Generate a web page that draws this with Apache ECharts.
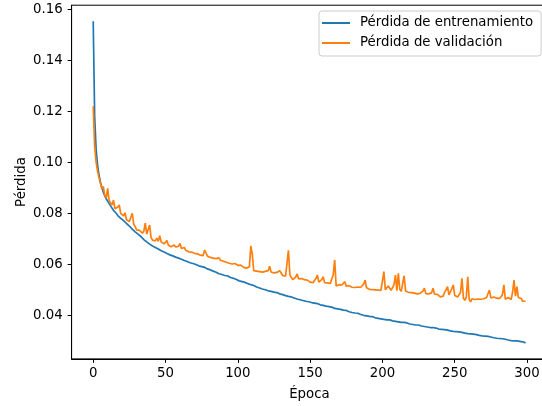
<!DOCTYPE html>
<html>
<head>
<meta charset="utf-8">
<script src="https://cdn.jsdelivr.net/npm/echarts@6/dist/echarts.min.js"></script>
<style>html,body{margin:0;padding:0;background:#fff;overflow:hidden;}#c{width:542px;height:406px;}</style>
</head>
<body>
<div id="c"></div>
<script>
const seriesNames = ['Pérdida de entrenamiento', 'Pérdida de validación'];
const xTicks = [0, 50, 100, 150, 200, 250, 300];
const yTicks = [0.04, 0.06, 0.08, 0.10, 0.12, 0.14, 0.16];
const xTitle = 'Época';
const yTitle = 'Pérdida';

const trainLoss = [
0.1553,0.1180,0.1052,0.0990,0.0950,0.0922,0.0900,0.0883,0.0868,0.0856,
0.0848,0.0838,0.0829,0.0822,0.0812,0.0806,0.0799,0.0791,0.0786,0.0780,
0.0775,0.0771,0.0764,0.0760,0.0754,0.0750,0.0746,0.0738,0.0733,0.0727,
0.0722,0.0718,0.0712,0.0709,0.0702,0.0697,0.0694,0.0688,0.0684,0.0679,
0.0676,0.0672,0.0669,0.0666,0.0661,0.0660,0.0655,0.0653,0.0650,0.0648,
0.0646,0.0642,0.0641,0.0637,0.0634,0.0633,0.0630,0.0628,0.0627,0.0624,
0.0623,0.0620,0.0619,0.0615,0.0614,0.0611,0.0610,0.0606,0.0605,0.0603,
0.0601,0.0599,0.0598,0.0594,0.0593,0.0591,0.0587,0.0588,0.0584,0.0582,
0.0580,0.0578,0.0577,0.0573,0.0572,0.0569,0.0568,0.0563,0.0564,0.0560,
0.0557,0.0556,0.0553,0.0554,0.0549,0.0548,0.0544,0.0545,0.0541,0.0540,
0.0538,0.0535,0.0536,0.0532,0.0530,0.0529,0.0525,0.0524,0.0521,0.0520,
0.0516,0.0517,0.0513,0.0511,0.0510,0.0507,0.0506,0.0503,0.0502,0.0500,
0.0499,0.0496,0.0497,0.0494,0.0492,0.0491,0.0488,0.0489,0.0486,0.0484,
0.0483,0.0481,0.0480,0.0477,0.0478,0.0474,0.0472,0.0472,0.0469,0.0468,
0.0467,0.0464,0.0465,0.0461,0.0460,0.0458,0.0457,0.0455,0.0456,0.0453,
0.0452,0.0450,0.0449,0.0448,0.0445,0.0446,0.0443,0.0441,0.0441,0.0439,
0.0438,0.0436,0.0435,0.0434,0.0431,0.0432,0.0429,0.0427,0.0428,0.0425,
0.0424,0.0423,0.0421,0.0420,0.0418,0.0419,0.0416,0.0414,0.0414,0.0411,
0.0410,0.0409,0.0407,0.0408,0.0404,0.0403,0.0402,0.0400,0.0401,0.0398,
0.0397,0.0396,0.0394,0.0395,0.0392,0.0390,0.0391,0.0388,0.0389,0.0386,
0.0386,0.0384,0.0385,0.0382,0.0381,0.0382,0.0379,0.0378,0.0379,0.0376,
0.0376,0.0374,0.0375,0.0372,0.0371,0.0372,0.0369,0.0370,0.0367,0.0366,
0.0366,0.0364,0.0365,0.0362,0.0361,0.0362,0.0359,0.0358,0.0359,0.0356,
0.0356,0.0354,0.0355,0.0352,0.0351,0.0352,0.0349,0.0350,0.0347,0.0346,
0.0346,0.0345,0.0343,0.0344,0.0341,0.0342,0.0340,0.0339,0.0340,0.0337,
0.0337,0.0336,0.0334,0.0335,0.0332,0.0333,0.0331,0.0330,0.0331,0.0328,
0.0328,0.0327,0.0325,0.0326,0.0323,0.0324,0.0322,0.0321,0.0322,0.0319,
0.0319,0.0318,0.0316,0.0317,0.0314,0.0315,0.0313,0.0312,0.0313,0.0310,
0.0310,0.0309,0.0307,0.0308,0.0305,0.0306,0.0304,0.0303,0.0304,0.0301,
0.0302,0.0300,0.0299,0.0300,0.0297,0.0298,0.0295,0.0296,0.0294,0.0292
];

const valLoss = [
0.1220,0.1060,0.1000,0.0965,0.0940,0.0918,0.0895,0.0905,0.0870,0.0860,
0.0898,0.0850,0.0840,0.0832,0.0852,0.0818,0.0812,0.0825,0.0833,0.0800,
0.0798,0.0790,0.0802,0.0775,0.0778,0.0768,0.0772,0.0800,0.0758,0.0748,
0.0735,0.0740,0.0733,0.0728,0.0722,0.0730,0.0761,0.0718,0.0712,0.0754,
0.0705,0.0695,0.0700,0.0692,0.0703,0.0690,0.0712,0.0688,0.0685,0.0680,
0.0683,0.0693,0.0675,0.0680,0.0669,0.0672,0.0676,0.0668,0.0665,0.0670,
0.0682,0.0662,0.0660,0.0666,0.0655,0.0658,0.0649,0.0653,0.0648,0.0645,
0.0643,0.0650,0.0641,0.0644,0.0636,0.0640,0.0634,0.0656,0.0663,0.0632,
0.0630,0.0627,0.0633,0.0624,0.0628,0.0622,0.0620,0.0625,0.0616,0.0613,
0.0612,0.0618,0.0608,0.0610,0.0604,0.0607,0.0601,0.0598,0.0603,0.0600,
0.0596,0.0593,0.0597,0.0590,0.0588,0.0592,0.0585,0.0583,0.0590,0.0672,
0.0640,0.0575,0.0570,0.0573,0.0568,0.0571,0.0566,0.0569,0.0574,0.0572,
0.0568,0.0575,0.0592,0.0570,0.0563,0.0566,0.0560,0.0568,0.0562,0.0575,
0.0578,0.0556,0.0560,0.0553,0.0557,0.0655,0.0560,0.0548,0.0540,0.0546,
0.0550,0.0562,0.0543,0.0540,0.0544,0.0537,0.0540,0.0535,0.0538,0.0533,
0.0530,0.0534,0.0528,0.0532,0.0544,0.0558,0.0530,0.0525,0.0540,0.0551,
0.0528,0.0524,0.0527,0.0522,0.0525,0.0521,0.0560,0.0617,0.0515,0.0518,
0.0520,0.0516,0.0519,0.0522,0.0532,0.0514,0.0512,0.0516,0.0513,0.0510,
0.0514,0.0509,0.0507,0.0511,0.0508,0.0510,0.0506,0.0522,0.0538,0.0508,
0.0504,0.0502,0.0506,0.0501,0.0505,0.0500,0.0503,0.0499,0.0502,0.0498,
0.0503,0.0571,0.0500,0.0496,0.0515,0.0522,0.0498,0.0494,0.0520,0.0558,
0.0497,0.0565,0.0502,0.0494,0.0498,0.0555,0.0495,0.0492,0.0490,0.0493,
0.0489,0.0491,0.0487,0.0490,0.0484,0.0482,0.0486,0.0483,0.0495,0.0506,
0.0485,0.0481,0.0484,0.0480,0.0488,0.0506,0.0483,0.0478,0.0482,0.0476,
0.0472,0.0479,0.0475,0.0490,0.0500,0.0512,0.0480,0.0493,0.0505,0.0519,
0.0478,0.0474,0.0472,0.0476,0.0490,0.0545,0.0468,0.0459,0.0470,0.0551,
0.0462,0.0453,0.0465,0.0460,0.0462,0.0458,0.0464,0.0459,0.0463,0.0461,
0.0465,0.0462,0.0470,0.0475,0.0499,0.0468,0.0466,0.0472,0.0469,0.0467,
0.0470,0.0466,0.0472,0.0480,0.0519,0.0463,0.0458,0.0470,0.0466,0.0462,
0.0490,0.0538,0.0475,0.0512,0.0470,0.0472,0.0466,0.0455,0.0451,0.0455
];

const FONT = 'DejaVu Sans';
const toPairs = arr => arr.map((v, i) => [i, v]);

const chart = echarts.init(document.getElementById('c'), null, {renderer: 'canvas'});
chart.setOption({
  animation: false,
  backgroundColor: '#ffffff',
  textStyle: {fontFamily: FONT},
  grid: {left: 71.6, top: 5.2, width: 475.6, height: 353.7, outerBoundsMode: 'none', containLabel: false, show: true, borderColor: '#000', borderWidth: 1, backgroundColor: 'transparent'},
  legend: {
    orient: 'vertical',
    left: 319, top: 11,
    padding: [5, 8, 6, 3],
    itemWidth: 28, itemHeight: 2, itemGap: 6,
    icon: 'rect',
    backgroundColor: 'rgba(255,255,255,0.8)',
    borderColor: '#cccccc', borderWidth: 1, borderRadius: 3,
    textStyle: {fontFamily: FONT, fontSize: 13.3, color: '#000', lineHeight: 14, padding: [0, 0, 0, 5]},
    data: seriesNames
  },
  xAxis: {
    type: 'value', min: -14.95, max: 313.95,
    name: xTitle, nameLocation: 'middle', nameGap: 29, nameMoveOverlap: false,
    nameTextStyle: {fontFamily: FONT, fontSize: 13.3, color: '#000'},
    axisLine: {show: true, onZero: false, lineStyle: {color: '#000', width: 1}},
    axisTick: {show: true, length: 4, customValues: xTicks, lineStyle: {color: '#000'}},
    axisLabel: {customValues: xTicks, margin: 8, fontFamily: FONT, fontSize: 13.3, color: '#000'},
    splitLine: {show: false}
  },
  yAxis: {
    type: 'value', min: 0.0229, max: 0.1616,
    name: yTitle, nameLocation: 'middle', nameGap: 44, nameRotate: 90, nameMoveOverlap: false,
    nameTextStyle: {fontFamily: FONT, fontSize: 13.3, color: '#000'},
    axisLine: {show: true, onZero: false, lineStyle: {color: '#000', width: 1}},
    axisTick: {show: true, length: 4, customValues: yTicks, lineStyle: {color: '#000'}},
    axisLabel: {customValues: yTicks, margin: 9, fontFamily: FONT, fontSize: 13.3, color: '#000', formatter: v => v.toFixed(2)},
    splitLine: {show: false}
  },
  series: [
    {name: seriesNames[0], type: 'line', data: toPairs(trainLoss), showSymbol: false, symbol: 'none', clip: true, lineStyle: {color: '#1f77b4', width: 1.7}, itemStyle: {color: '#1f77b4'}},
    {name: seriesNames[1], type: 'line', data: toPairs(valLoss), showSymbol: false, symbol: 'none', clip: true, lineStyle: {color: '#ff7f0e', width: 1.7}, itemStyle: {color: '#ff7f0e'}}
  ]
});
</script>
</body>
</html>
